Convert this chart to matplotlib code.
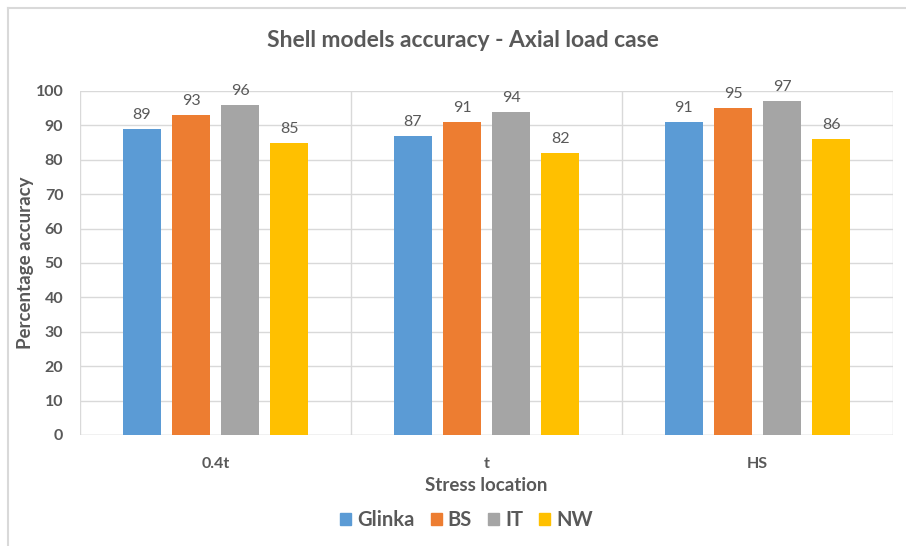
import matplotlib

matplotlib.use("Agg")
import matplotlib.pyplot as plt
import numpy as np
from matplotlib.lines import Line2D

plt.rcParams["font.family"] = ["Lato", "DejaVu Sans"]

locations = ["0.4t", "t", "HS"]
series = ["Glinka", "BS", "IT", "NW"]
glinka = [89, 87, 91]
bs = [93, 91, 95]
it = [96, 94, 97]
nw = [85, 82, 86]
colors = ["#5B9BD5", "#ED7D31", "#A5A5A5", "#FFC000"]
yticks = list(range(0, 101, 10))

TEXT = "#595959"
GRID = "#D9D9D9"

fig = plt.figure(figsize=(9.06, 5.46), dpi=100)
ax = fig.add_axes([80 / 906, 1 - 435 / 546, 813 / 906, 344 / 546])

x = np.arange(len(locations))
width = 0.142
step = 0.181
for i, (name, vals) in enumerate(zip(series, [glinka, bs, it, nw])):
    pos = x + (i - 1.5) * step
    bars = ax.bar(pos, vals, width, color=colors[i], label=name, zorder=3)
    for b, v in zip(bars, vals):
        ax.annotate(str(v), (b.get_x() + b.get_width() / 2, v), xytext=(0, 5),
                    textcoords="offset points", ha="center", va="bottom",
                    fontsize=11.5, color=TEXT)

ax.set_xlim(-0.5, 2.5)
ax.set_ylim(0, 100)
ax.set_yticks(yticks)
ax.set_xticks(x)
ax.set_xticklabels(locations)
ax.yaxis.grid(True, color=GRID, lw=1, zorder=0)
for xb in np.arange(-0.5, 2.6, 1.0):
    ax.axvline(xb, color=GRID, lw=1, zorder=0)
for s in ax.spines.values():
    s.set_visible(False)
ax.axhline(0, color=GRID, lw=1, zorder=1)
ax.tick_params(axis="both", length=0, colors=TEXT, labelsize=11.5)
ax.tick_params(axis="x", pad=16)
ax.tick_params(axis="y", pad=12)
for lab in ax.get_yticklabels() + ax.get_xticklabels():
    lab.set_fontweight("bold")

ax.set_xlabel("Stress location", fontsize=13.5, fontweight="bold", color=TEXT)
ax.xaxis.set_label_coords(0.5, -0.122)
ax.set_ylabel("Percentage accuracy", fontsize=13.5, fontweight="bold", color=TEXT)
ax.yaxis.set_label_coords(-0.056, 0.5)

fig.text(0.511, 0.925, "Shell models accuracy - Axial load case", ha="center",
         va="center", fontsize=16.5, fontweight="bold", color=TEXT)

handles = [plt.Rectangle((0, 0), 1, 1, color=c) for c in colors]
leg = fig.legend(handles, series, loc="center", bbox_to_anchor=(0.515, 0.047), ncol=4,
                 frameon=False, fontsize=14.5, handlelength=0.55, handleheight=0.55,
                 handletextpad=0.3, columnspacing=0.8)
for t in leg.get_texts():
    t.set_color(TEXT)
    t.set_fontweight("bold")

# chart border (only top and left edges visible in the crop)
fig.add_artist(Line2D([8 / 906, 1], [1 - 8 / 546] * 2, transform=fig.transFigure,
                      color=GRID, lw=1.5))
fig.add_artist(Line2D([8 / 906] * 2, [0, 1 - 8 / 546], transform=fig.transFigure,
                      color=GRID, lw=1.5))

fig.savefig("out.png", dpi=100, facecolor="white")
